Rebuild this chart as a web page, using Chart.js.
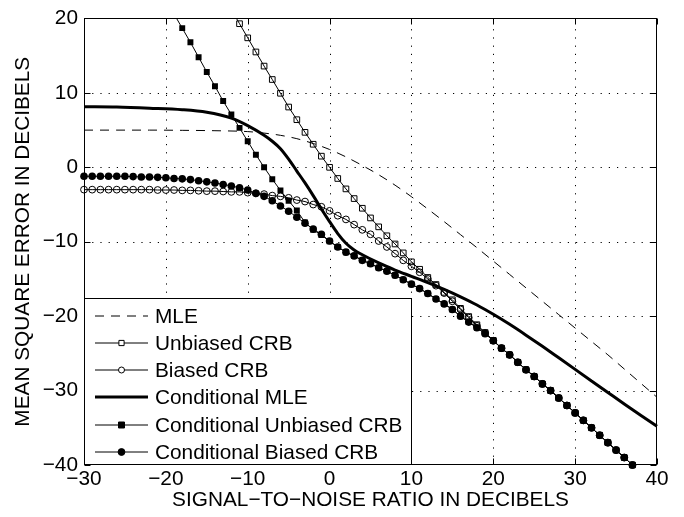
<!DOCTYPE html>
<html><head><meta charset="utf-8">
<script src="https://cdn.jsdelivr.net/npm/chart.js@4.4.1/dist/chart.umd.min.js"></script>
<style>html,body{margin:0;padding:0;background:#fff;}canvas{display:block;}</style>
</head><body>
<canvas id="c" width="684" height="517"></canvas>
<script>
const seriesNames = ['MLE','Unbiased CRB','Biased CRB','Conditional MLE','Conditional Unbiased CRB','Conditional Biased CRB'];
const xTickValues = [-30,-20,-10,0,10,20,30,40];
const xTickLabels = ['\u221230','\u221220','\u221210','0','10','20','30','40'];
const yTickValues = [-40,-30,-20,-10,0,10,20];
const yTickLabels = ['\u221240','\u221230','\u221220','\u221210','0','10','20'];
const xLabel = 'SIGNAL\u2212TO\u2212NOISE RATIO IN DECIBELS';
const yLabel = 'MEAN SQUARE ERROR IN DECIBELS';

// MLE (dashed)
const mleX = [-30,-26,-22,-18,-14,-10,-8,-6,-4,-2,0,2,4,6,8,10,12,14,16,18,20,22,24,26,28,30,32,34,36,38,40];
const mleY = [5.0,5.0,5.0,4.97,4.92,4.8,4.6,4.3,3.85,3.2,2.4,1.4,0.25,-1.0,-2.4,-3.95,-5.6,-7.3,-9.05,-10.8,-12.6,-14.4,-16.2,-18.0,-19.8,-21.6,-23.4,-25.2,-27.1,-29.0,-30.9];

// Unbiased CRB (open squares)
const ubX = [-12,-11,-10,-9,-8,-7,-6,-5,-4,-3,-2,-1,0,1,2,3,4,5,6,7,8,9,10,11,12,13,14,15,16,17,18,19,20,21,22,23,24,25,26,27,28,29,30,31,32,33,34,35,36,37];
const ubY = [21.2,19.3,17.4,15.5,13.6,11.8,9.95,8.1,6.4,4.7,3.1,1.5,0.0,-1.5,-2.9,-4.2,-5.5,-6.8,-8.0,-9.2,-10.3,-11.5,-12.7,-13.7,-14.8,-15.75,-16.8,-17.8,-18.95,-20.05,-21.15,-22.2,-23.25,-24.3,-25.2,-26.2,-27.2,-28.1,-29.1,-30.0,-31.0,-32.0,-33.0,-34.0,-35.0,-36.0,-37.0,-38.0,-39.0,-40.0];

// Biased CRB (open circles)
const bX = [-30,-29,-28,-27,-26,-25,-24,-23,-22,-21,-20,-19,-18,-17,-16,-15,-14,-13,-12,-11,-10,-9,-8,-7,-6,-5,-4,-3,-2,-1,0,1,2,3,4,5,6,7,8,9,10,11,12,13,14,15,16,17,18,19,20,21,22,23,24,25,26,27,28,29,30,31,32,33,34,35,36,37];
const bY = [-3.0,-3.0,-3.0,-3.0,-3.0,-3.0,-3.0,-3.0,-3.0,-3.05,-3.05,-3.05,-3.1,-3.1,-3.15,-3.2,-3.2,-3.25,-3.3,-3.3,-3.4,-3.5,-3.6,-3.8,-3.9,-4.1,-4.4,-4.6,-5.0,-5.3,-5.85,-6.5,-7.0,-7.7,-8.4,-9.0,-9.9,-10.7,-11.6,-12.5,-13.3,-14.1,-15.0,-15.9,-16.9,-18.0,-19.1,-20.2,-21.3,-22.25,-23.3,-24.3,-25.2,-26.2,-27.2,-28.1,-29.1,-30.0,-31.0,-32.0,-33.0,-34.0,-35.0,-36.0,-37.0,-38.0,-39.0,-40.0];

// Conditional MLE (thick)
const cmX = [-30,-26,-22,-18,-15,-12,-10,-8,-7,-6,-5,-4,-3,-2,-1,0,1,2,3,4,6,8,10,12,14,16,18,20,22,24,26,28,30,32,34,36,38,40];
const cmY = [8.15,8.1,7.95,7.75,7.4,6.6,5.6,4.3,3.5,2.5,1.1,-0.5,-2.1,-3.8,-5.6,-7.3,-8.9,-10.2,-11.1,-11.75,-12.85,-13.8,-14.65,-15.5,-16.4,-17.4,-18.5,-19.75,-21.1,-22.55,-24.05,-25.6,-27.15,-28.7,-30.25,-31.8,-33.3,-34.8];

// Conditional Unbiased CRB (filled squares)
const cuX = [-19,-18,-17,-16,-15,-14,-13,-12,-11,-10,-9,-8,-7,-6,-5,-4,-3,-2,-1,0,1,2,3,4,5,6,7,8,9,10,11,12,13,14,15,16,17,18,19,20,21,22,23,24,25,26,27,28,29,30,31,32,33,34,35,36,37];
const cuY = [20.6,18.7,16.8,14.8,12.8,10.9,8.9,7.1,5.3,3.5,1.7,0.0,-1.6,-3.1,-4.5,-5.8,-7.4,-8.4,-9.1,-9.95,-10.7,-11.4,-11.9,-12.5,-12.95,-13.5,-13.95,-14.5,-15.1,-15.7,-16.3,-16.95,-17.7,-18.35,-19.1,-20.0,-20.8,-21.55,-22.35,-23.3,-24.3,-25.2,-26.2,-27.2,-28.1,-29.1,-30.0,-31.0,-32.0,-33.0,-34.0,-35.0,-36.0,-37.0,-38.0,-39.0,-40.0];

// Conditional Biased CRB (filled circles)
const cbX = [-30,-29,-28,-27,-26,-25,-24,-23,-22,-21,-20,-19,-18,-17,-16,-15,-14,-13,-12,-11,-10,-9,-8,-7,-6,-5,-4,-3,-2,-1,0,1,2,3,4,5,6,7,8,9,10,11,12,13,14,15,16,17,18,19,20,21,22,23,24,25,26,27,28,29,30,31,32,33,34,35,36,37];
const cbY = [-1.2,-1.2,-1.2,-1.2,-1.2,-1.2,-1.25,-1.3,-1.3,-1.35,-1.4,-1.5,-1.55,-1.65,-1.8,-1.95,-2.1,-2.3,-2.5,-2.75,-3.05,-3.5,-3.9,-4.5,-5.2,-5.9,-6.7,-7.5,-8.3,-9.0,-9.9,-10.7,-11.4,-11.9,-12.5,-12.95,-13.5,-13.95,-14.5,-15.1,-15.7,-16.3,-16.95,-17.7,-18.35,-19.1,-20.0,-20.8,-21.55,-22.35,-23.3,-24.3,-25.2,-26.2,-27.2,-28.1,-29.1,-30.0,-31.0,-32.0,-33.0,-34.0,-35.0,-36.0,-37.0,-38.0,-39.0,-40.0];

const pts = (xs, ys) => xs.map((x, i) => ({x: x, y: ys[i]}));
const FONT = '"Liberation Sans", Arial, Helvetica, sans-serif';
const FS = 20.8;
const clipBox = {left: 6, top: 0, right: 6, bottom: 6};
const DASH = [9, 7];

const legendStyles = [
  {dash: DASH, width: 1, marker: null},
  {dash: [], width: 1, marker: 'rect', fill: false},
  {dash: [], width: 1, marker: 'circle', fill: false},
  {dash: [], width: 3, marker: null},
  {dash: [], width: 1, marker: 'rect', fill: true},
  {dash: [], width: 1, marker: 'circle', fill: true}
];

function drawMarker(ctx, kind, filled, x, y) {
  ctx.save();
  ctx.setLineDash([]);
  ctx.lineWidth = 1;
  ctx.strokeStyle = '#000';
  ctx.fillStyle = '#000';
  ctx.beginPath();
  if (kind === 'rect') {
    const h = filled ? 3 : 2.6;
    ctx.rect(x - h, y - h, 2 * h, 2 * h);
  } else {
    ctx.arc(x, y, filled ? 3.4 : 3, 0, Math.PI * 2);
  }
  if (filled) ctx.fill();
  else { ctx.fillStyle = '#fff'; ctx.fill(); }
  ctx.stroke();
  ctx.restore();
}

const framePlugin = {
  id: 'framePlugin',
  beforeDatasetsDraw(chart) {
    const {ctx, chartArea: a, scales: {x, y}} = chart;
    ctx.save();
    ctx.strokeStyle = '#000';
    ctx.lineWidth = 1;
    ctx.setLineDash([1.2, 7]);
    xTickValues.forEach(v => {
      if (v <= x.min || v >= x.max) return;
      const px = Math.round(x.getPixelForValue(v)) + 0.5;
      ctx.beginPath(); ctx.moveTo(px, a.bottom); ctx.lineTo(px, a.top); ctx.stroke();
    });
    yTickValues.forEach(v => {
      if (v <= y.min || v >= y.max) return;
      const py = Math.round(y.getPixelForValue(v)) + 0.5;
      ctx.beginPath(); ctx.moveTo(a.left, py); ctx.lineTo(a.right, py); ctx.stroke();
    });
    ctx.restore();
  },
  afterDatasetsDraw(chart) {
    const {ctx, chartArea: a, scales: {x, y}} = chart;
    const L = Math.round(a.left) + 0.5, R = Math.round(a.right) - 0.5;
    const T = Math.round(a.top) + 0.5, B = Math.round(a.bottom) - 0.5;
    const tl = 6;
    ctx.save();
    ctx.strokeStyle = '#000';
    ctx.lineWidth = 1;
    ctx.setLineDash([]);
    ctx.strokeRect(L, T, R - L, B - T);
    ctx.beginPath();
    xTickValues.forEach(v => {
      const px = Math.round(x.getPixelForValue(v)) + 0.5;
      ctx.moveTo(px, B); ctx.lineTo(px, B - tl);
      ctx.moveTo(px, T); ctx.lineTo(px, T + tl);
    });
    yTickValues.forEach(v => {
      const py = Math.round(y.getPixelForValue(v)) + 0.5;
      ctx.moveTo(L, py); ctx.lineTo(L + tl, py);
      ctx.moveTo(R, py); ctx.lineTo(R - tl, py);
    });
    ctx.stroke();

    // legend
    const lx0 = L, lx1 = Math.round(x.getPixelForValue(10)) + 0.5;
    const ly0 = Math.round(y.getPixelForValue(-17.55)) + 0.5, ly1 = B;
    ctx.fillStyle = '#fff';
    ctx.fillRect(lx0, ly0, lx1 - lx0, ly1 - ly0);
    ctx.strokeRect(lx0, ly0, lx1 - lx0, ly1 - ly0);
    const rowH = 27.2;
    ctx.font = FS + 'px ' + FONT;
    ctx.textBaseline = 'alphabetic';
    ctx.textAlign = 'left';
    seriesNames.forEach((name, i) => {
      const st = legendStyles[i];
      const ry = Math.round(ly0 + 17.3 + i * rowH);
      ctx.save();
      ctx.strokeStyle = '#000';
      ctx.lineWidth = st.width;
      ctx.setLineDash(st.dash);
      ctx.beginPath();
      ctx.moveTo(lx0 + 10.5, ry); ctx.lineTo(lx0 + 63.5, ry);
      ctx.stroke();
      ctx.restore();
      if (st.marker) drawMarker(ctx, st.marker, st.fill, lx0 + 37, ry);
      ctx.fillStyle = '#000';
      ctx.fillText(name, lx0 + 70.5, ry + 7.4);
    });
    ctx.restore();
  }
};

Chart.defaults.color = '#000';
Chart.defaults.font.family = FONT;
Chart.defaults.font.size = FS;

new Chart(document.getElementById('c'), {
  type: 'line',
  data: {
    datasets: [
      {label: seriesNames[0], data: pts(mleX, mleY), borderColor: '#000', borderWidth: 1, borderDash: DASH,
       pointRadius: 0, cubicInterpolationMode: 'monotone', order: 6, clip: clipBox},
      {label: seriesNames[1], data: pts(ubX, ubY), borderColor: '#000', borderWidth: 1,
       pointStyle: 'rect', pointRadius: 4, pointBorderWidth: 1, pointBorderColor: '#000',
       pointBackgroundColor: 'rgba(0,0,0,0)', order: 5, clip: clipBox},
      {label: seriesNames[2], data: pts(bX, bY), borderColor: '#000', borderWidth: 1,
       pointStyle: 'circle', pointRadius: 3.4, pointBorderWidth: 1, pointBorderColor: '#000',
       pointBackgroundColor: 'rgba(0,0,0,0)', order: 4, clip: clipBox},
      {label: seriesNames[3], data: pts(cmX, cmY), borderColor: '#000', borderWidth: 3,
       pointRadius: 0, cubicInterpolationMode: 'monotone', order: 3, clip: clipBox},
      {label: seriesNames[4], data: pts(cuX, cuY), borderColor: '#000', borderWidth: 1,
       pointStyle: 'rect', pointRadius: 4.2, pointBorderWidth: 0, pointBorderColor: '#000',
       pointBackgroundColor: '#000', order: 2, clip: clipBox},
      {label: seriesNames[5], data: pts(cbX, cbY), borderColor: '#000', borderWidth: 1,
       pointStyle: 'circle', pointRadius: 3.8, pointBorderWidth: 0, pointBorderColor: '#000',
       pointBackgroundColor: '#000', order: 1, clip: clipBox}
    ]
  },
  options: {
    responsive: false,
    animation: false,
    events: [],
    layout: {padding: {top: 13, right: 27, bottom: 0, left: 0}},
    plugins: {legend: {display: false}, tooltip: {enabled: false}},
    scales: {
      x: {
        type: 'linear', min: -30, max: 40,
        afterBuildTicks: s => { s.ticks = xTickValues.map(v => ({value: v})); },
        afterFit: s => { s.height = 52; },
        grid: {display: false, drawTicks: false},
        border: {display: false},
        ticks: {padding: 2, maxRotation: 0, autoSkip: false, font: {size: FS, family: FONT},
          callback: v => { const i = xTickValues.indexOf(v); return i >= 0 ? xTickLabels[i] : ''; }},
        title: {display: true, text: xLabel, font: {size: FS, family: FONT}, padding: {top: 0, bottom: 4}}
      },
      y: {
        type: 'linear', min: -40, max: 20,
        afterBuildTicks: s => { s.ticks = yTickValues.map(v => ({value: v})); },
        afterFit: s => { s.width = 84; },
        grid: {display: false, drawTicks: false},
        border: {display: false},
        ticks: {padding: 6, autoSkip: false, font: {size: FS, family: FONT},
          callback: v => { const i = yTickValues.indexOf(v); return i >= 0 ? yTickLabels[i] : ''; }},
        title: {display: true, text: yLabel, font: {size: FS, family: FONT}, padding: {top: 11, bottom: 0}}
      }
    }
  },
  plugins: [framePlugin]
});
</script>
</body></html>
